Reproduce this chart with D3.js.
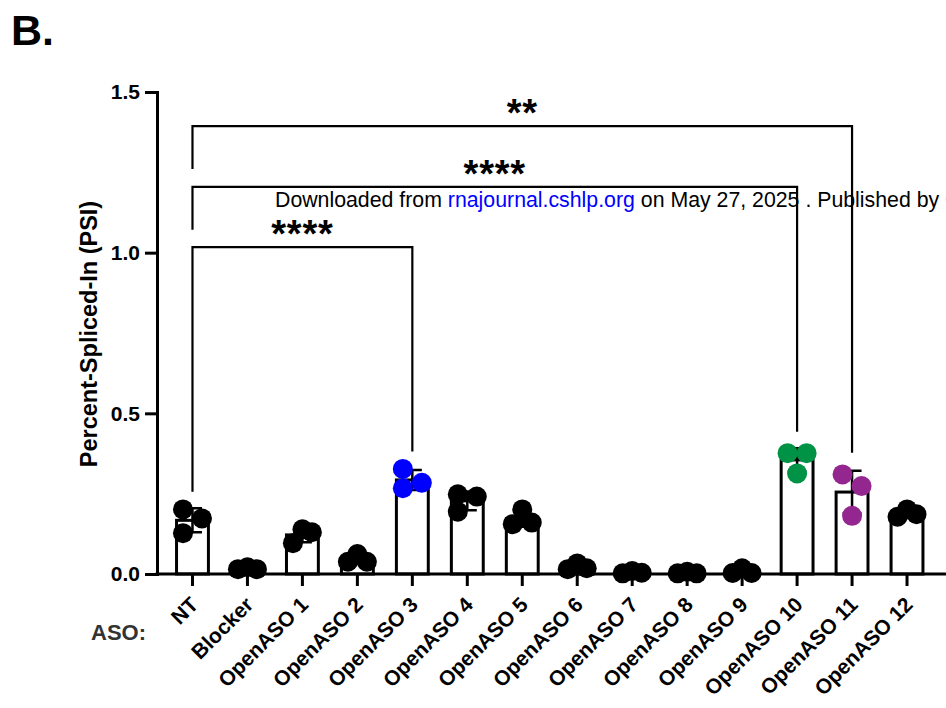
<!DOCTYPE html>
<html><head><meta charset="utf-8">
<script src="https://cdn.jsdelivr.net/npm/d3@7"></script>
<style>body{margin:0;background:#fff} svg{display:block}</style>
</head><body><svg id="c" width="946" height="708"></svg>
<script>
// ---- data ----
const categories = ["NT","Blocker","OpenASO 1","OpenASO 2","OpenASO 3","OpenASO 4","OpenASO 5","OpenASO 6","OpenASO 7","OpenASO 8","OpenASO 9","OpenASO 10","OpenASO 11","OpenASO 12"];
const rep1 = [0.201,0.015,0.096,0.038,0.327,0.248,0.201,0.015,0.002,0.002,0.003,0.376,0.310,0.178];
const rep2 = [0.173,0.021,0.139,0.062,0.267,0.241,0.155,0.033,0.009,0.007,0.018,0.376,0.274,0.201];
const rep3 = [0.127,0.015,0.130,0.038,0.284,0.194,0.160,0.018,0.004,0.002,0.003,0.313,0.181,0.186];
const jit1 = [-1,-1,-1,-1,-1,-1, 0,-1,-1,-1,-1,-1,-1,-1];
const jit2 = [ 1, 0, 0, 0,-1, 1,-1, 0, 0, 0, 0, 1, 1, 0];
const jit3 = [-1, 1, 1, 1, 1,-1, 1, 1, 1, 1, 1, 0, 0, 1];
const pointColors = ["#000","#000","#000","#000","#0000ff","#000","#000","#000","#000","#000","#000","#009245","#93278f","#000"];
const yTicks = [0, 0.5, 1.0, 1.5];
const compFrom = ["NT","NT","NT"];
const compTo = ["OpenASO 11","OpenASO 10","OpenASO 3"];
const compLevel = [1.394, 1.205, 1.017];
const compLeftEnd = [1.260, 1.071, 0.256];
const compRightEnd = [0.377, 0.443, 0.381];
const compLabel = ["**","****","****"];

// ---- chart ----
const FONT = "'Liberation Sans', Arial, Helvetica, sans-serif";
const svg = d3.select("#c").style("font-family", FONT);
const x = d3.scaleBand().domain(categories).range([165, 934.5]);
const y = d3.scaleLinear().domain([0, 1.5]).range([574, 92]);
const bw = x.bandwidth();
const barW = bw * 0.58;
const r = 10, jitPx = 9.5;

const groups = categories.map((c, i) => {
  const vals = [rep1[i], rep2[i], rep3[i]];
  return {c, i, vals, jits: [jit1[i], jit2[i], jit3[i]], mean: d3.mean(vals), sd: d3.deviation(vals)};
});

svg.append("text").attr("x", 11).attr("y", 45).attr("font-size", 43).attr("font-weight", "bold").text("B.");

// bars
svg.append("g").selectAll("rect").data(groups).join("rect")
  .attr("x", d => x(d.c) + bw / 2 - barW / 2)
  .attr("y", d => y(d.mean))
  .attr("width", barW)
  .attr("height", d => y(0) - y(d.mean))
  .attr("fill", "#fff").attr("stroke", "#000").attr("stroke-width", 3);

// error bars
const eb = svg.append("g").attr("stroke", "#000").attr("stroke-width", 2.5).attr("fill", "none");
eb.selectAll("path").data(groups).join("path")
  .attr("d", d => {
    const cx = x(d.c) + bw / 2, hi = y(d.mean + d.sd), lo = y(Math.max(0, d.mean - d.sd)), cw = 9.5;
    return `M${cx},${lo}V${hi}M${cx - cw},${hi}H${cx + cw}M${cx - cw},${lo}H${cx + cw}`;
  });

// y axis
const ya = svg.append("g").attr("transform", "translate(157,0)")
  .call(d3.axisLeft(y).tickValues(yTicks).tickFormat(d3.format(".1f")).tickSize(12).tickSizeOuter(0).tickPadding(5));
ya.select(".domain").attr("stroke-width", 3).attr("stroke-linecap", "square");
ya.selectAll(".tick line").attr("stroke-width", 3);
ya.selectAll(".tick text").attr("font-size", 21).attr("font-weight", "bold").attr("font-family", FONT).attr("fill", "#000");

// x axis
const xa = svg.append("g").attr("transform", "translate(0,574)")
  .call(d3.axisBottom(x).tickSize(12).tickSizeOuter(0));
xa.select(".domain").remove();
xa.append("line").attr("x1", 155.5).attr("x2", 950).attr("stroke", "#000").attr("stroke-width", 3);
xa.selectAll(".tick line").attr("stroke-width", 3);
xa.selectAll(".tick text")
  .attr("font-size", 21).attr("font-weight", "bold").attr("font-family", FONT).attr("fill", "#000")
  .attr("text-anchor", "end").attr("x", 0).attr("y", 0).attr("dy", 0)
  .attr("transform", "translate(7,32) rotate(-45)");

// points
const pts = groups.flatMap(g => g.vals.map((v, k) => ({c: g.c, v, j: g.jits[k], col: pointColors[g.i]})));
svg.append("g").selectAll("circle").data(pts).join("circle")
  .attr("cx", d => x(d.c) + bw / 2 + d.j * jitPx)
  .attr("cy", d => y(d.v))
  .attr("r", r)
  .attr("fill", d => d.col);

// watermark text
const wm = svg.append("text").attr("x", 275).attr("y", 207).attr("font-size", 21.3).attr("fill", "#000");
wm.append("tspan").text("Downloaded from ");
wm.append("tspan").attr("fill", "#0000ff").text("rnajournal.cshlp.org");
wm.append("tspan").text(" on May 27, 2025 . Published by Cold Spring Harbor Laboratory Press");

// significance brackets
const br = svg.append("g");
compLevel.forEach((lv, k) => {
  const x1 = x(compFrom[k]) + bw / 2, x2 = x(compTo[k]) + bw / 2;
  br.append("path")
    .attr("d", `M${x1},${y(compLeftEnd[k])}V${y(lv)}H${x2}V${y(compRightEnd[k])}`)
    .attr("fill", "none").attr("stroke", "#000").attr("stroke-width", 2.2);
  br.append("text").attr("x", (x1 + x2) / 2).attr("y", y(lv) - 22 + 0.58 * 38)
    .attr("text-anchor", "middle").attr("font-size", 38).attr("font-weight", "bold")
    .attr("letter-spacing", 0.8).text(compLabel[k]);
});

// axis titles
svg.append("text").attr("transform", "translate(96.5,334) rotate(-90)").attr("text-anchor", "middle")
  .attr("font-size", 23.5).attr("font-weight", "bold").text("Percent-Spliced-In (PSI)");
svg.append("text").attr("x", 91).attr("y", 640).attr("font-size", 22).attr("font-weight", "bold").attr("fill", "#333").text("ASO:");
</script></body></html>
